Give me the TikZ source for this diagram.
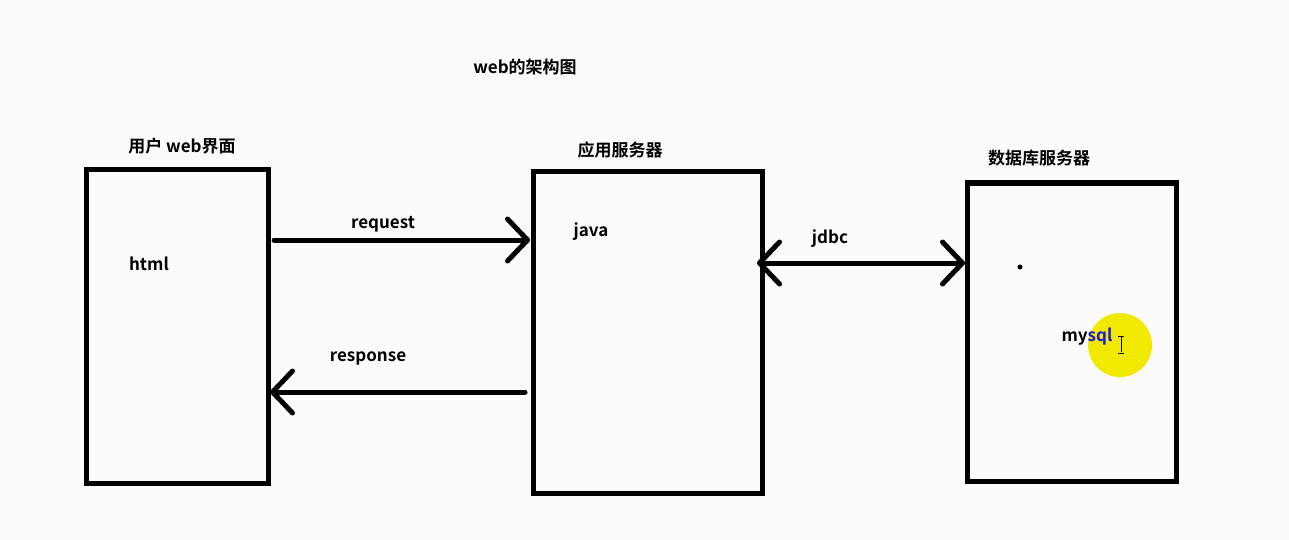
\documentclass[tikz,border=0pt]{standalone}
\usepackage{fontspec}
\setmainfont{Noto Sans CJK SC}[BoldFont={Noto Sans CJK SC Bold}]
\usetikzlibrary{arrows.meta}
\definecolor{bgc}{HTML}{FBFBFB}
\definecolor{sqlblue}{HTML}{1A1AE0}
\definecolor{hiyel}{HTML}{F2E900}
\tikzset{
  box/.style={draw=black, line width=5pt, rectangle, inner sep=0pt, outer sep=0pt},
  lbl/.style={font=\bfseries\fontsize{17}{19}\selectfont, inner sep=0pt},
  arr/.style={line width=5pt, line cap=round,
    -{Straight Barb[length=20pt,width=42pt,line width=5pt,round]}},
  dbl/.style={line width=5pt, line cap=round,
    {Straight Barb[length=20pt,width=42pt,line width=5pt,round]}-{Straight Barb[length=20pt,width=42pt,line width=5pt,round]}}
}
\begin{document}
\begin{tikzpicture}[x=1pt,y=-1pt]
\fill[bgc] (0,0) rectangle (1289,540);
\useasboundingbox (0,0) rectangle (1289,540);
% highlight circle
\fill[hiyel] (1120,345) circle (32);
% boxes
\node[box, minimum width=182pt, minimum height=313pt] (b1) at (177,326.5) {};
\node[box, minimum width=229pt, minimum height=321pt] (b2) at (647.5,332.5) {};
\node[box, minimum width=209pt, minimum height=298pt] (b3) at (1071.5,332) {};
% titles
\node[lbl] (title) at (525,67) {web的架构图};
\node[lbl] (t1) at (182,146) {用户 web界面};
\node[lbl] (t2) at (620,150) {应用服务器};
\node[lbl] (t3) at (1039,158) {数据库服务器};
% inner texts
\node[lbl] (html) at (149,264) {html};
\node[lbl] (java) at (591,232) {java};
\node[lbl] (mysql) at (1087,337) {my\textcolor{sqlblue}{sql}};
\fill (1020,267) circle (2.5);
% cursor I-beam
\draw[line width=0.8pt] (1121,337) -- (1121,352) (1118,336) -- (1124,336) (1118,353) -- (1124,353);
% connectors
\coordinate (reqS) at ([xshift=6pt]b1.east |- 0,240);
\coordinate (reqE) at ([xshift=-3pt]b2.west |- 0,240);
\draw[arr] (reqS) -- (reqE);
\node[lbl] (req) at (383,224) {request};
\coordinate (resS) at ([xshift=-8pt]b2.west |- 0,392);
\coordinate (resE) at ([xshift=2pt]b1.east |- 0,392);
\draw[arr] (resS) -- (resE);
\node[lbl] (resp) at (368,358) {response};
\coordinate (jS) at ([xshift=-5pt]b2.east |- 0,263);
\coordinate (jE) at ([xshift=-2pt]b3.west |- 0,263);
\draw[dbl] (jS) -- (jE);
\node[lbl] (jdbc) at (830,239) {jdbc};
\end{tikzpicture}
\end{document}
